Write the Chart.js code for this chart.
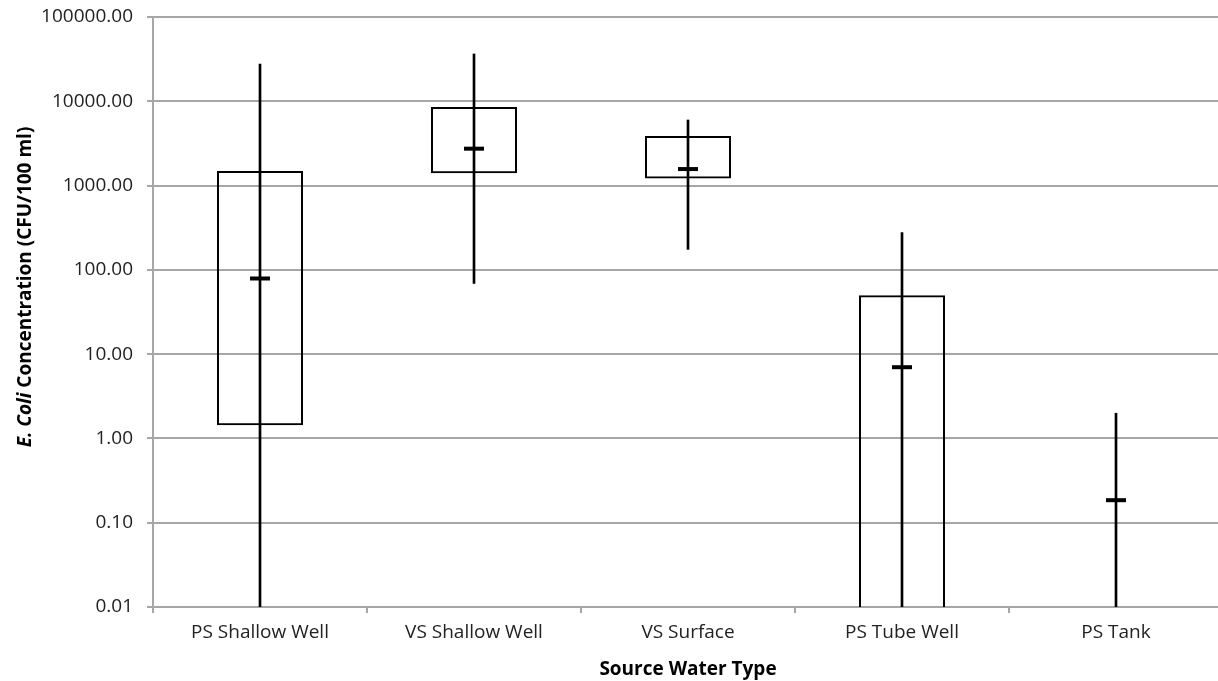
<!DOCTYPE html>
<html>
<head>
<meta charset="utf-8">
<script src="https://cdn.jsdelivr.net/npm/chart.js@4.4.0/dist/chart.umd.min.js"></script>
<style>
  html, body { margin: 0; padding: 0; background: #ffffff; overflow: hidden; }
  #c { position: absolute; left: 0; top: 0; }
</style>
</head>
<body>
<canvas id="c" width="1237" height="681"></canvas>
<script>
const categories = ['PS Shallow Well', 'VS Shallow Well', 'VS Surface', 'PS Tube Well', 'PS Tank'];
const boxLow   = [1.43, 1400, 1210, 0.01, null];
const boxHigh  = [1490, 8550, 3870, 50, null];
const whiskerLow  = [0.01, 69, 175, 0.01, 0.01];
const whiskerHigh = [27700, 36400, 6000, 276, 1.99];
const medians  = [79, 2740, 1570, 7.0, 0.185];
const yTickValues = [0.01, 0.1, 1, 10, 100, 1000, 10000, 100000];
const yTickLabels = ['0.01', '0.10', '1.00', '10.00', '100.00', '1000.00', '10000.00', '100000.00'];
const yTitleItalic = 'E. Coli';
const yTitleRest = ' Concentration (CFU/100 ml)';
const xTitle = 'Source Water Type';

const FONT = '"Open Sans", "Liberation Sans", sans-serif';
const GRID = '#a6a6a6';

const boxData = boxLow.map((v, i) => (v === null ? null : [v, boxHigh[i]]));
const whiskerData = whiskerLow.map((v, i) => [v, whiskerHigh[i]]);

function zeroPad(scale) {
  scale.paddingTop = 0;
  scale.paddingBottom = 0;
  scale.paddingLeft = 0;
  scale.paddingRight = 0;
}

const titlePlugin = {
  id: 'titles',
  afterDraw(chart) {
    const ctx = chart.ctx;
    const area = chart.chartArea;
    ctx.save();
    ctx.fillStyle = '#000';
    ctx.textBaseline = 'middle';
    ctx.font = 'bold 19px ' + FONT;
    ctx.textAlign = 'center';
    ctx.fillText(xTitle, (area.left + area.right) / 2, 670);
    ctx.translate(26, 287);
    ctx.rotate(-Math.PI / 2);
    ctx.textAlign = 'left';
    const fItal = 'italic bold 19px ' + FONT;
    const fBold = 'bold 19px ' + FONT;
    ctx.font = fItal;
    const w1 = ctx.measureText(yTitleItalic).width;
    ctx.font = fBold;
    const w2 = ctx.measureText(yTitleRest).width;
    const start = -(w1 + w2) / 2;
    ctx.font = fItal;
    ctx.fillText(yTitleItalic, start, 0);
    ctx.font = fBold;
    ctx.fillText(yTitleRest, start + w1, 0);
    ctx.restore();
  }
};

new Chart(document.getElementById('c'), {
  type: 'bar',
  data: {
    labels: categories,
    datasets: [
      {
        type: 'line',
        label: 'Median',
        data: medians,
        showLine: false,
        pointStyle: 'line',
        pointRadius: 10,
        pointHoverRadius: 10,
        pointBorderWidth: 4,
        pointBorderColor: '#000',
        borderColor: '#000',
        order: 0
      },
      {
        label: 'Range',
        data: whiskerData,
        grouped: false,
        barThickness: 2,
        backgroundColor: '#000',
        borderWidth: 0,
        order: 1
      },
      {
        label: 'IQR',
        data: boxData,
        grouped: false,
        categoryPercentage: 1,
        barPercentage: 0.402,
        backgroundColor: 'rgba(0,0,0,0)',
        borderColor: '#000',
        borderWidth: 2,
        borderSkipped: (c) => (boxLow[c.dataIndex] !== null && boxLow[c.dataIndex] <= 0.01 ? 'bottom' : false),
        order: 2
      }
    ]
  },
  options: {
    responsive: false,
    animation: false,
    layout: { padding: { top: 17, right: 0, left: 0, bottom: 0 } },
    plugins: {
      legend: { display: false },
      tooltip: { enabled: false },
      title: { display: false }
    },
    scales: {
      x: {
        type: 'category',
        offset: true,
        grid: {
          display: true,
          offset: true,
          drawOnChartArea: false,
          drawTicks: true,
          tickLength: 6,
          color: GRID,
          lineWidth: 2
        },
        border: { display: false },
        ticks: {
          color: '#222',
          font: { family: FONT, size: 19 },
          padding: 8,
          maxRotation: 0,
          autoSkip: false
        },
        afterFit(scale) { scale.height = 74; zeroPad(scale); }
      },
      y: {
        type: 'logarithmic',
        min: 0.01,
        max: 100000,
        afterBuildTicks(scale) {
          scale.ticks = yTickValues.map(v => ({ value: v }));
        },
        grid: {
          color: GRID,
          lineWidth: 2,
          drawTicks: true,
          tickLength: 6
        },
        border: { display: true, color: GRID, width: 2 },
        ticks: {
          color: '#222',
          font: { family: FONT, size: 19 },
          padding: 14,
          callback(value) {
            const i = yTickValues.findIndex(t => Math.abs(t - value) / t < 1e-6);
            return i >= 0 ? yTickLabels[i] : null;
          }
        },
        afterFit(scale) { scale.width = 153; zeroPad(scale); }
      }
    }
  },
  plugins: [titlePlugin]
});
</script>
</body>
</html>
